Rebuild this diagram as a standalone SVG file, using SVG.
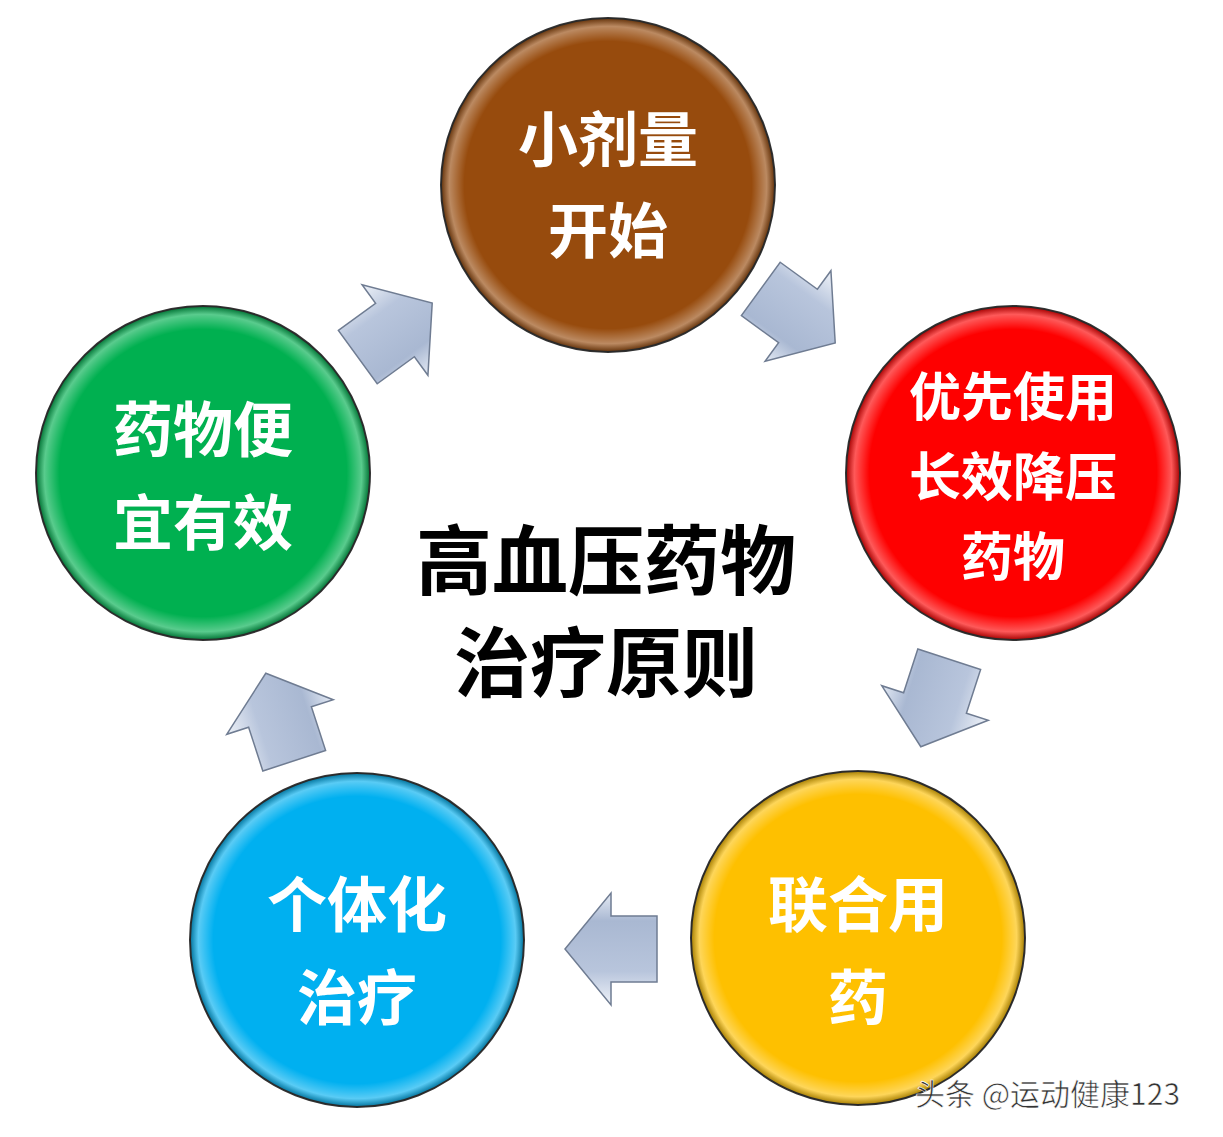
<svg xmlns="http://www.w3.org/2000/svg" width="1223" height="1137" viewBox="0 0 1223 1137">
<style>
.c{stroke:#333;stroke-width:2}
.t{fill:#fff;font-family:"Noto Sans CJK SC",sans-serif;font-weight:bold;font-size:60px;text-anchor:middle;dominant-baseline:central}
.t.s{font-size:52px}
.m{fill:#000;font-family:"Noto Sans CJK SC",sans-serif;font-weight:bold;font-size:76px;text-anchor:middle;dominant-baseline:central}
.a{fill:url(#ag);stroke:#6f7c92;stroke-width:1.5}
</style>
<defs>
<radialGradient id="gl" cx="0.5" cy="0.5" r="0.5">
<stop offset="0.86" stop-color="#fff" stop-opacity="0"/>
<stop offset="0.95" stop-color="#fff" stop-opacity="0.35"/>
<stop offset="1" stop-color="#000" stop-opacity="0.35"/>
</radialGradient>
<linearGradient id="ag" x1="0" y1="0" x2="0" y2="1">
<stop offset="0" stop-color="#eef2f8"/>
<stop offset="0.3" stop-color="#b8c5dc"/>
<stop offset="0.75" stop-color="#a9b8d2"/>
<stop offset="1" stop-color="#e4eaf4"/>
</linearGradient>
<path id="ar" d="M-46,-33 L0,-33 L0,-56 L46,0 L0,56 L0,33 L-46,33 Z"/>
</defs>
<g id="n1"><circle cx="608" cy="185" r="167" fill="#974b0d" class="c"/><circle cx="608" cy="185" r="167" fill="url(#gl)"/><text class="t" x="608" y="135">小剂量</text><text class="t" x="608" y="226">开始</text></g>
<g id="n2"><circle cx="1013" cy="473" r="167" fill="#fe0000" class="c"/><circle cx="1013" cy="473" r="167" fill="url(#gl)"/><text class="t s" x="1013" y="393">优先使用</text><text class="t s" x="1013" y="473">长效降压</text><text class="t s" x="1013" y="553">药物</text></g>
<g id="n3"><circle cx="858" cy="938" r="167" fill="#fec000" class="c"/><circle cx="858" cy="938" r="167" fill="url(#gl)"/><text class="t" x="858" y="900">联合用</text><text class="t" x="858" y="993">药</text></g>
<g id="n4"><circle cx="357" cy="940" r="167" fill="#00b0f0" class="c"/><circle cx="357" cy="940" r="167" fill="url(#gl)"/><text class="t" x="357" y="900">个体化</text><text class="t" x="357" y="993">治疗</text></g>
<g id="n5"><circle cx="203" cy="473" r="167" fill="#00b050" class="c"/><circle cx="203" cy="473" r="167" fill="url(#gl)"/><text class="t" x="203" y="425">药物便</text><text class="t" x="203" y="518">宜有效</text></g>
<g id="center"><text class="m" x="606" y="556">高血压药物</text><text class="m" x="606" y="658">治疗原则</text></g>
<g id="connectors">
<use href="#ar" class="a" transform="translate(395,330) rotate(-36)"/>
<use href="#ar" class="a" transform="translate(798,316) rotate(36)"/>
<use href="#ar" class="a" transform="translate(935,703) rotate(108)"/>
<use href="#ar" class="a" transform="translate(611,949) rotate(180)"/>
<use href="#ar" class="a" transform="translate(280,717) rotate(252)"/>
</g>
<text x="915" y="1105" font-family="Noto Sans CJK SC,sans-serif" font-size="30" fill="#333" stroke="#fff" stroke-width="0.6">头条 @运动健康123</text>
</svg>
